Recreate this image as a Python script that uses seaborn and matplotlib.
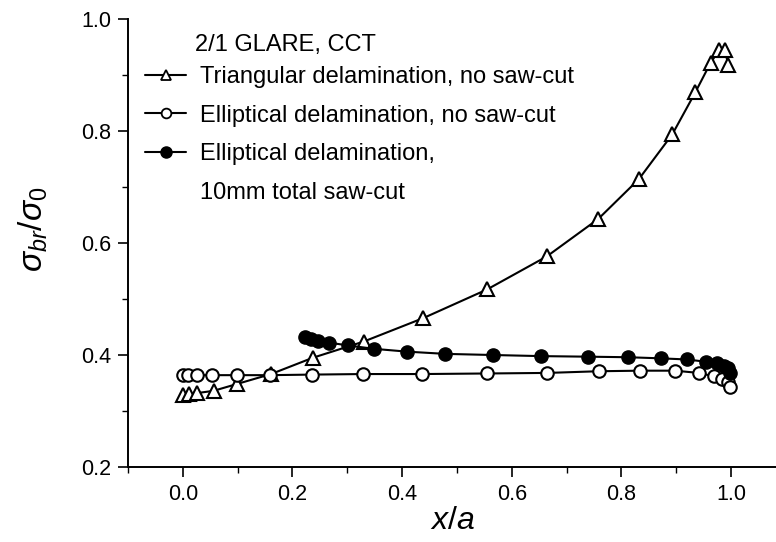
import numpy as np
import pandas as pd
import seaborn as sns
import matplotlib
matplotlib.use("Agg")
import matplotlib.pyplot as plt
from matplotlib.lines import Line2D
from matplotlib.ticker import MultipleLocator

# ---- data ----
tri_x = [0.000, 0.012, 0.026, 0.056, 0.098, 0.161, 0.237, 0.330, 0.439, 0.555,
         0.664, 0.758, 0.832, 0.893, 0.935, 0.963, 0.979, 0.989, 0.995]
tri_y = [0.328, 0.330, 0.332, 0.336, 0.348, 0.366, 0.395, 0.424, 0.466, 0.517,
         0.576, 0.643, 0.714, 0.794, 0.869, 0.922, 0.945, 0.945, 0.918]

open_x = [0.000, 0.010, 0.025, 0.054, 0.099, 0.159, 0.235, 0.329, 0.437, 0.555,
          0.665, 0.759, 0.835, 0.898, 0.941, 0.969, 0.983, 0.994, 0.998]
open_y = [0.364, 0.364, 0.364, 0.364, 0.364, 0.364, 0.365, 0.366, 0.366, 0.367,
          0.368, 0.371, 0.372, 0.372, 0.368, 0.362, 0.358, 0.352, 0.343]

fill_x = [0.223, 0.234, 0.246, 0.267, 0.302, 0.349, 0.409, 0.479, 0.565, 0.654,
          0.739, 0.813, 0.873, 0.920, 0.954, 0.974, 0.987, 0.994, 0.998]
fill_y = [0.433, 0.429, 0.425, 0.422, 0.417, 0.411, 0.406, 0.402, 0.400, 0.398,
          0.397, 0.396, 0.394, 0.392, 0.388, 0.385, 0.380, 0.376, 0.367]

legend_title = "2/1 GLARE, CCT"
labels = ["Triangular delamination, no saw-cut",
          "Elliptical delamination, no saw-cut",
          "Elliptical delamination,",
          "10mm total saw-cut"]

x_ticks = [0.0, 0.2, 0.4, 0.6, 0.8, 1.0]
y_ticks = [0.2, 0.4, 0.6, 0.8, 1.0]

# ---- style ----
sns.set_theme(style="ticks")
plt.rcParams['font.family'] = ['Liberation Sans', 'DejaVu Sans']
plt.rcParams['text.color'] = 'black'
plt.rcParams['axes.labelcolor'] = 'black'
plt.rcParams['mathtext.fontset'] = 'custom'
plt.rcParams['mathtext.rm'] = 'Liberation Sans'
plt.rcParams['mathtext.it'] = 'Liberation Sans:italic'

fig = plt.figure(figsize=(7.76, 5.42), dpi=100)
ax = fig.add_axes([128 / 776, 1 - 467 / 542, 648 / 776, 448 / 542])

lw = 1.5
sns.lineplot(x=tri_x, y=tri_y, ax=ax, color='black', lw=lw, marker='^', markersize=10,
             markerfacecolor='white', markeredgecolor='black', markeredgewidth=1.5,
             sort=False, estimator=None)
sns.lineplot(x=open_x, y=open_y, ax=ax, color='black', lw=lw, marker='o', markersize=9,
             markerfacecolor='white', markeredgecolor='black', markeredgewidth=1.5,
             sort=False, estimator=None)
sns.lineplot(x=fill_x, y=fill_y, ax=ax, color='black', lw=lw, marker='o', markersize=9.5,
             markerfacecolor='black', markeredgecolor='black', markeredgewidth=1.0,
             sort=False, estimator=None)

ax.set_xlim(-0.1, (776 - 183.6) / 547.4)
ax.set_ylim(0.2, 1.0)
ax.set_xticks(x_ticks)
ax.set_yticks(y_ticks)
ax.set_xticklabels([f"{v:.1f}" for v in x_ticks])
ax.set_yticklabels([f"{v:.1f}" for v in y_ticks])
ax.xaxis.set_minor_locator(MultipleLocator(0.1))
ax.yaxis.set_minor_locator(MultipleLocator(0.1))
ax.tick_params(which='major', direction='out', length=7, width=1.2, labelsize=15.5,
               colors='black', pad=5)
ax.tick_params(which='minor', direction='out', length=4, width=1.0, colors='black')
for s in ['top', 'right']:
    ax.spines[s].set_visible(False)
for s in ['left', 'bottom']:
    ax.spines[s].set_linewidth(1.4)
    ax.spines[s].set_color('black')

ax.set_xlabel(r"$x/a$", fontsize=23, labelpad=1, color='black')
ax.set_ylabel(r"$\sigma_{br}/\sigma_0$", fontsize=24, color='black')
ax.yaxis.set_label_coords(-0.12, 0.53)

ax.text((195 - 128) / 648, (467 - 45) / 448, legend_title, transform=ax.transAxes,
        fontsize=17, ha='left', va='center', color='black')

handles = [
    Line2D([], [], color='black', lw=lw, marker='^', markersize=7,
           markerfacecolor='white', markeredgecolor='black', markeredgewidth=1.3),
    Line2D([], [], color='black', lw=lw, marker='o', markersize=7,
           markerfacecolor='white', markeredgecolor='black', markeredgewidth=1.3),
    Line2D([], [], color='black', lw=lw, marker='o', markersize=8,
           markerfacecolor='black', markeredgecolor='black'),
    Line2D([], [], color='none', lw=0),
]
leg = ax.legend(handles, labels, loc='upper left',
                bbox_to_anchor=(0.027, (467 - 66) / 448), frameon=False, fontsize=17,
                handlelength=1.7, handletextpad=0.6, labelspacing=0.7,
                borderpad=0.0, borderaxespad=0.0)
for t in leg.get_texts():
    t.set_color('black')

fig.savefig("out.png", dpi=100)
